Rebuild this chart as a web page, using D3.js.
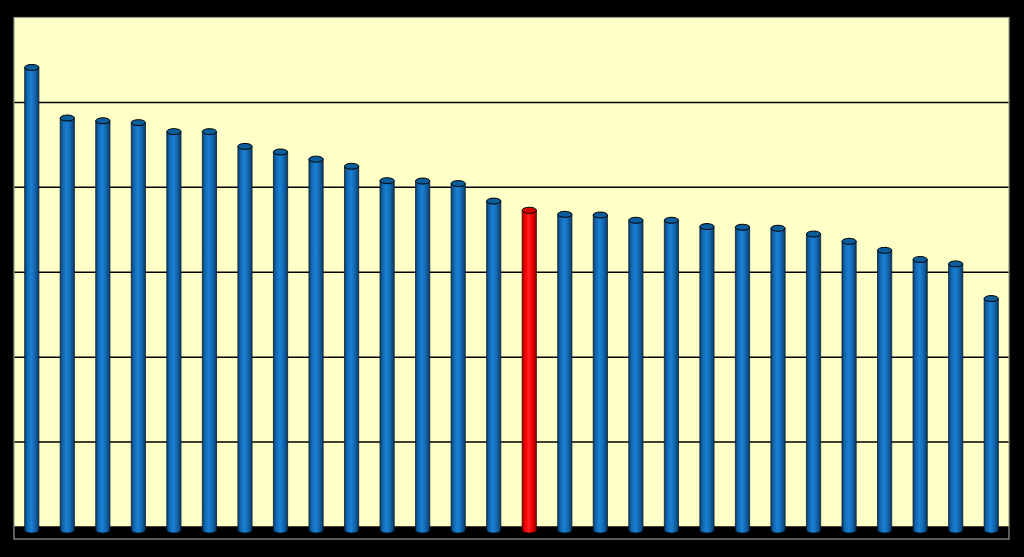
<!DOCTYPE html>
<html><head><meta charset="utf-8">
<script src="https://cdn.jsdelivr.net/npm/d3@7"></script>
<style>html,body{margin:0;padding:0;background:#000;}svg{display:block;}</style>
</head><body>
<script>
const categories = d3.range(1, 29).map(i => "C" + i);
const values = [27.06, 24.08, 23.92, 23.81, 23.28, 23.28, 22.41, 22.08, 21.66, 21.24,
  20.39, 20.37, 20.22, 19.19, 18.65, 18.41, 18.37, 18.06, 18.06, 17.69,
  17.65, 17.59, 17.25, 16.82, 16.29, 15.75, 15.49, 13.45];
const highlighted = ["C15"];
const yTicks = [0, 5, 10, 15, 20, 25, 30];

(function () {
const W = 1024, H = 557;
const svg = d3.select("body").append("svg").attr("width", W).attr("height", H);
svg.append("rect").attr("width", W).attr("height", H).attr("fill", "#000");

const pLeft = 14, pRight = 1009, pTop = 17.5, floorY = 527;
const x = d3.scaleBand().domain(categories).range([pLeft, pRight]).paddingInner(0.6).paddingOuter(0.3);
const y = d3.scaleLinear().domain([0, 30]).range([floorY, pTop]);

const defs = svg.append("defs");
function grad(id, stops) {
  const g = defs.append("linearGradient").attr("id", id).attr("x1", "0").attr("x2", "1").attr("y1", "0").attr("y2", "0");
  stops.forEach(s => g.append("stop").attr("offset", s[0]).attr("stop-color", s[1]));
}
grad("gBlue", [[0, "#0a3e6e"], [0.2, "#1268b0"], [0.45, "#1a80d4"], [0.7, "#136ab2"], [1, "#0a3a68"]]);
grad("gRed", [[0, "#a00000"], [0.2, "#ee0000"], [0.45, "#ff2020"], [0.7, "#ee0000"], [1, "#990000"]]);

svg.append("rect").attr("x", pLeft).attr("y", pTop).attr("width", pRight - pLeft).attr("height", floorY - pTop)
  .attr("fill", "#ffffc8");
svg.append("rect").attr("x", pLeft).attr("y", floorY).attr("width", pRight - pLeft).attr("height", 12).attr("fill", "#000");

svg.append("g").selectAll("line").data(yTicks.filter(t => t > 0 && t < 30)).join("line")
  .attr("x1", pLeft).attr("x2", pRight).attr("y1", d => y(d)).attr("y2", d => y(d))
  .attr("stroke", "#000").attr("stroke-width", 1.5);
svg.append("line").attr("x1", pLeft).attr("x2", pRight).attr("y1", floorY).attr("y2", floorY)
  .attr("stroke", "#000").attr("stroke-width", 1.5);

svg.append("rect").attr("x", pLeft).attr("y", pTop).attr("width", pRight - pLeft).attr("height", 539 - pTop)
  .attr("fill", "none").attr("stroke", "#9a9a90").attr("stroke-width", 1.2);

const bw = x.bandwidth(), rx = bw / 2, ry = 3;
const baseY = 530;
svg.append("g").selectAll("g").data(categories).join("g").each(function (c, i) {
  const g = d3.select(this);
  const cx = x(c) + bw / 2;
  const ty = y(values[i]);
  const red = highlighted.includes(c);
  g.append("path")
    .attr("d", `M${cx - rx},${ty} L${cx - rx},${baseY} A${rx},${ry} 0 0 0 ${cx + rx},${baseY} L${cx + rx},${ty} Z`)
    .attr("fill", red ? "url(#gRed)" : "url(#gBlue)")
    .attr("stroke", red ? "#400000" : "#0a1f35").attr("stroke-width", 0.8);
  g.append("ellipse").attr("cx", cx).attr("cy", ty).attr("rx", rx).attr("ry", ry)
    .attr("fill", red ? "#d80000" : "#0b5d9c")
    .attr("stroke", "#000").attr("stroke-width", 1);
});
})();
</script>
</body></html>
